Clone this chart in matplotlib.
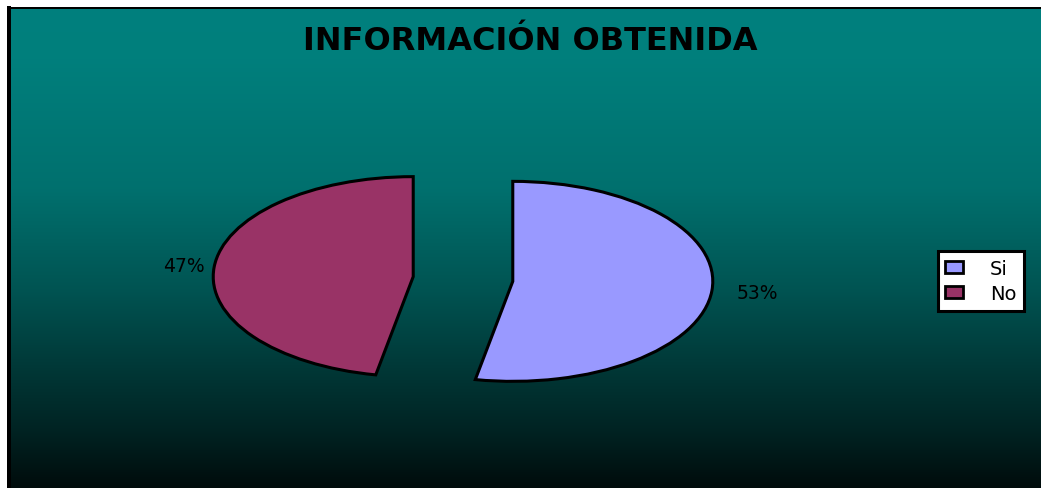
import numpy as np
import matplotlib.pyplot as plt

# data
categories = ['Si', 'No']
values = [53, 47]
colors = ['#9999FF', '#993366']
title = 'INFORMACIÓN OBTENIDA'

W, H = 1041, 489
fig = plt.figure(figsize=(W / 100, H / 100), dpi=100)
fig.patch.set_facecolor('white')

# background panel with teal -> black gradient
bg = fig.add_axes([9 / W, 0, 1 - 9 / W, 1 - 9 / H])
rows = np.linspace(9, H, 300)
lvl = np.interp(rows, [9, 60, 190, 290, 375, 430, 489],
				[128, 127, 112, 84, 54, 36, 12]) / 255.0
grad = np.zeros((len(rows), 1, 3))
grad[:, 0, 1] = lvl
grad[:, 0, 2] = lvl * 0.98
bg.imshow(grad, aspect='auto', extent=[0, 1, 0, 1], interpolation='bilinear')
bg.set_xlim(0, 1)
bg.set_ylim(0, 1)
bg.set_xticks([])
bg.set_yticks([])
bg.spines['right'].set_visible(False)
bg.spines['bottom'].set_visible(False)
bg.spines['left'].set_linewidth(4 * 0.72)
bg.spines['top'].set_linewidth(2 * 0.72)

# pie axes: 200 px per unit in x, 100 px per unit in y (flattened pie)
cx, cy = 463, 280
ax = fig.add_axes([(cx - 300) / W, (H - cy - 150) / H, 600 / W, 300 / H])
wedges, texts, autotexts = ax.pie(values, explode=[0.25, 0.25], startangle=90,
								  counterclock=False, colors=colors,
								  autopct='%1.0f%%', pctdistance=1.19,
								  wedgeprops=dict(edgecolor='black', linewidth=2.2))
ax.set_aspect('auto')
ax.set_xlim(-1.5, 1.5)
ax.set_ylim(-1.5, 1.5)
ax.patch.set_visible(False)
for t in autotexts:
	t.set_fontsize(13.5)
	t.set_color('black')
	# labels sit a little to the right in the reference
	x, y = t.get_position()
	t.set_position((x + 0.04, y))

fig.text(530 / W, 1 - 41 / H, title, ha='center', va='center',
		 fontsize=23, fontweight='bold', color='black')

leg = fig.legend(wedges, categories, loc='center',
				 bbox_to_anchor=(981 / W, 1 - 282 / H), fontsize=14,
				 frameon=True, fancybox=False, handlelength=0.9,
				 handleheight=0.6, handletextpad=1.4, labelspacing=0.3,
				 borderpad=0.4, borderaxespad=0)
leg.get_frame().set_edgecolor('black')
leg.get_frame().set_linewidth(2.2)
leg.get_frame().set_facecolor('white')
leg.get_frame().set_alpha(1)
for h in leg.legend_handles:
	h.set_linewidth(2)

fig.savefig('out.png', dpi=100)
